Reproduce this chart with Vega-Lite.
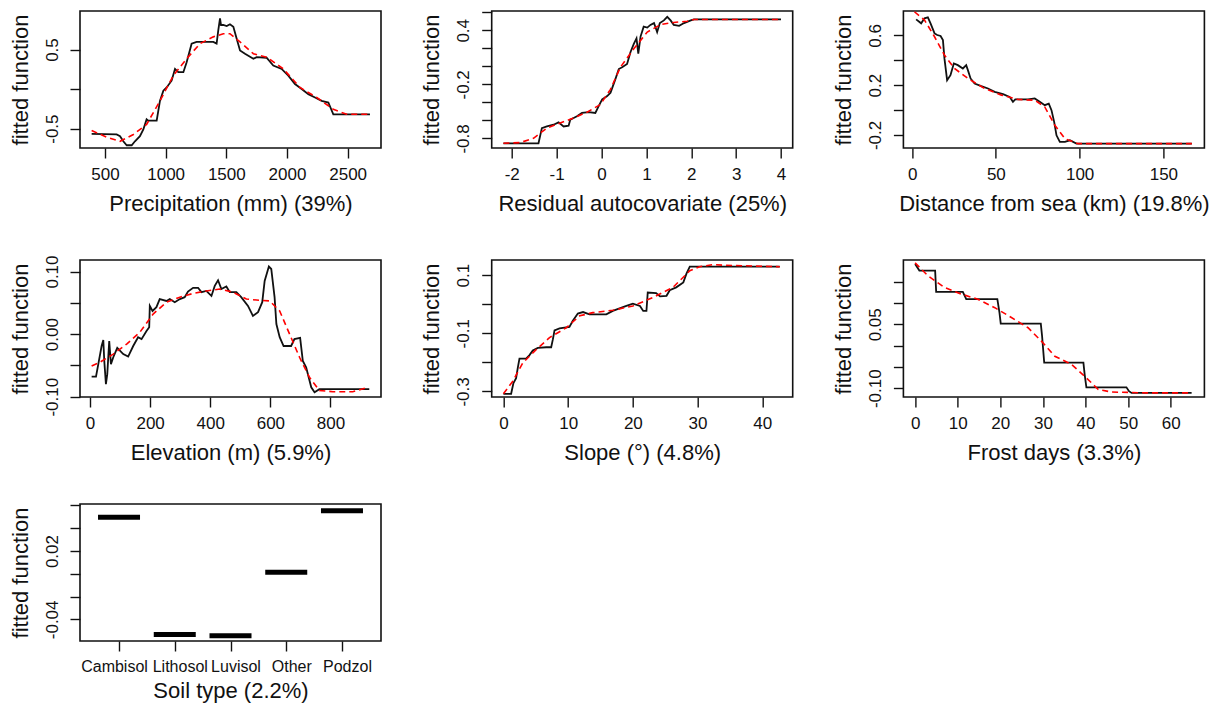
{
  "$schema": "https://vega.github.io/schema/vega-lite/v6.json",
  "background": "white",
  "padding": {"left": 8, "top": 7, "right": 4, "bottom": 1},
  "config": {
    "font": "Liberation Sans",
    "view": {"stroke": "#111", "strokeWidth": 1.6},
    "axis": {
      "domain": false, "grid": false,
      "tickColor": "#111", "tickWidth": 1.4, "tickSize": 10,
      "labelFont": "Liberation Sans", "labelFontSize": 17, "labelColor": "#111",
      "labelFlush": false, "labelOverlap": false, "labelBound": false,
      "titleFont": "Liberation Sans", "titleFontSize": 22, "titleFontWeight": "normal", "titleColor": "#111"
    },
    "axisX": {"labelPadding": 8, "titlePadding": 11, "labelAngle": 0},
    "axisY": {"labelAngle": -90, "labelAlign": "center", "labelBaseline": "alphabetic", "labelPadding": 13, "titlePadding": 11}
  },
  "datasets": {
    "precip_pd": [
      {"x": 390, "y": -0.566}, {"x": 596, "y": -0.574}, {"x": 624, "y": -0.596}, {"x": 651, "y": -0.66},
      {"x": 679, "y": -0.71}, {"x": 720, "y": -0.71}, {"x": 747, "y": -0.66}, {"x": 788, "y": -0.596},
      {"x": 816, "y": -0.51}, {"x": 843, "y": -0.383}, {"x": 857, "y": -0.4}, {"x": 926, "y": -0.4},
      {"x": 953, "y": -0.149}, {"x": 981, "y": -0.02}, {"x": 1008, "y": 0.02}, {"x": 1049, "y": 0.106},
      {"x": 1077, "y": 0.255}, {"x": 1104, "y": 0.213}, {"x": 1146, "y": 0.213}, {"x": 1173, "y": 0.34},
      {"x": 1214, "y": 0.574}, {"x": 1255, "y": 0.596}, {"x": 1393, "y": 0.596}, {"x": 1420, "y": 0.574},
      {"x": 1434, "y": 0.745}, {"x": 1448, "y": 0.894}, {"x": 1456, "y": 0.81}, {"x": 1475, "y": 0.81},
      {"x": 1503, "y": 0.796}, {"x": 1530, "y": 0.82}, {"x": 1558, "y": 0.787}, {"x": 1585, "y": 0.638},
      {"x": 1613, "y": 0.489}, {"x": 1654, "y": 0.447}, {"x": 1723, "y": 0.383}, {"x": 1750, "y": 0.404},
      {"x": 1832, "y": 0.396}, {"x": 1887, "y": 0.298}, {"x": 1956, "y": 0.255}, {"x": 2011, "y": 0.17},
      {"x": 2066, "y": 0.064}, {"x": 2121, "y": 0.0}, {"x": 2176, "y": -0.064}, {"x": 2231, "y": -0.106},
      {"x": 2286, "y": -0.149}, {"x": 2341, "y": -0.17}, {"x": 2382, "y": -0.319}, {"x": 2684, "y": -0.319}
    ],
    "precip_fit": [
      {"x": 390, "y": -0.523}, {"x": 514, "y": -0.609}, {"x": 624, "y": -0.66}, {"x": 734, "y": -0.574},
      {"x": 843, "y": -0.447}, {"x": 953, "y": -0.149}, {"x": 1063, "y": 0.17}, {"x": 1173, "y": 0.383},
      {"x": 1283, "y": 0.574}, {"x": 1393, "y": 0.66}, {"x": 1475, "y": 0.7}, {"x": 1530, "y": 0.7},
      {"x": 1613, "y": 0.596}, {"x": 1723, "y": 0.447}, {"x": 1832, "y": 0.404}, {"x": 1970, "y": 0.255},
      {"x": 2107, "y": 0.02}, {"x": 2245, "y": -0.106}, {"x": 2382, "y": -0.255}, {"x": 2492, "y": -0.319},
      {"x": 2684, "y": -0.319}
    ],
    "resid_pd": [
      {"x": -2.186, "y": -0.854}, {"x": -1.404, "y": -0.854}, {"x": -1.329, "y": -0.685}, {"x": -1.218, "y": -0.667},
      {"x": -1.069, "y": -0.648}, {"x": -0.957, "y": -0.622}, {"x": -0.845, "y": -0.667}, {"x": -0.733, "y": -0.659},
      {"x": -0.696, "y": -0.592}, {"x": -0.621, "y": -0.573}, {"x": -0.547, "y": -0.554}, {"x": -0.435, "y": -0.517},
      {"x": -0.286, "y": -0.509}, {"x": -0.137, "y": -0.517}, {"x": -0.063, "y": -0.442}, {"x": 0.015, "y": -0.367},
      {"x": 0.127, "y": -0.33}, {"x": 0.201, "y": -0.292}, {"x": 0.31, "y": -0.142}, {"x": 0.385, "y": -0.03},
      {"x": 0.46, "y": -0.011}, {"x": 0.57, "y": 0.026}, {"x": 0.645, "y": 0.157}, {"x": 0.72, "y": 0.25},
      {"x": 0.78, "y": 0.31}, {"x": 0.82, "y": 0.14}, {"x": 0.87, "y": 0.33}, {"x": 0.94, "y": 0.44},
      {"x": 1.02, "y": 0.43}, {"x": 1.09, "y": 0.46}, {"x": 1.17, "y": 0.48}, {"x": 1.24, "y": 0.38},
      {"x": 1.3, "y": 0.48}, {"x": 1.39, "y": 0.51}, {"x": 1.465, "y": 0.55}, {"x": 1.54, "y": 0.51},
      {"x": 1.61, "y": 0.46}, {"x": 1.73, "y": 0.45}, {"x": 1.84, "y": 0.48}, {"x": 1.99, "y": 0.51},
      {"x": 2.06, "y": 0.52}, {"x": 4.0, "y": 0.52}
    ],
    "resid_fit": [
      {"x": -2.186, "y": -0.854}, {"x": -1.81, "y": -0.846}, {"x": -1.516, "y": -0.798}, {"x": -1.218, "y": -0.685},
      {"x": -0.92, "y": -0.629}, {"x": -0.621, "y": -0.573}, {"x": -0.323, "y": -0.509}, {"x": -0.025, "y": -0.423},
      {"x": 0.2, "y": -0.255}, {"x": 0.42, "y": -0.011}, {"x": 0.72, "y": 0.195}, {"x": 1.02, "y": 0.38},
      {"x": 1.32, "y": 0.464}, {"x": 1.61, "y": 0.487}, {"x": 1.91, "y": 0.5}, {"x": 2.06, "y": 0.52},
      {"x": 4.0, "y": 0.52}
    ],
    "resid_rug": [
      {"x": -0.659}, {"x": -0.435}, {"x": -0.31}, {"x": -0.19}, {"x": -0.064}, {"x": 0.048}, {"x": 0.236}, {"x": 0.459}, {"x": 0.817}
    ],
    "sea_pd": [
      {"x": 2.4, "y": 0.729}, {"x": 5.4, "y": 0.697}, {"x": 7.4, "y": 0.737}, {"x": 9.4, "y": 0.745},
      {"x": 11.0, "y": 0.697}, {"x": 13.4, "y": 0.616}, {"x": 15.0, "y": 0.603}, {"x": 17.0, "y": 0.595},
      {"x": 18.4, "y": 0.562}, {"x": 19.3, "y": 0.415}, {"x": 20.9, "y": 0.24}, {"x": 22.9, "y": 0.28},
      {"x": 24.9, "y": 0.375}, {"x": 27.3, "y": 0.361}, {"x": 30.3, "y": 0.334}, {"x": 32.3, "y": 0.361},
      {"x": 33.3, "y": 0.321}, {"x": 34.9, "y": 0.254}, {"x": 37.3, "y": 0.213}, {"x": 41.3, "y": 0.192},
      {"x": 45.3, "y": 0.173}, {"x": 49.3, "y": 0.146}, {"x": 54.3, "y": 0.128}, {"x": 58.2, "y": 0.106},
      {"x": 60.2, "y": 0.066}, {"x": 61.6, "y": 0.085}, {"x": 69.2, "y": 0.085}, {"x": 73.2, "y": 0.093},
      {"x": 76.2, "y": 0.066}, {"x": 79.2, "y": 0.039}, {"x": 81.6, "y": 0.052}, {"x": 83.2, "y": -0.001},
      {"x": 84.8, "y": -0.095}, {"x": 86.2, "y": -0.203}, {"x": 88.2, "y": -0.256}, {"x": 91.2, "y": -0.256},
      {"x": 94.2, "y": -0.243}, {"x": 98.1, "y": -0.27}, {"x": 167, "y": -0.27}
    ],
    "sea_fit": [
      {"x": 1.4, "y": 0.79}, {"x": 7.4, "y": 0.723}, {"x": 13.4, "y": 0.589}, {"x": 19.3, "y": 0.442},
      {"x": 25.3, "y": 0.334}, {"x": 33.3, "y": 0.254}, {"x": 43.3, "y": 0.173}, {"x": 53.3, "y": 0.12},
      {"x": 63.2, "y": 0.085}, {"x": 73.2, "y": 0.079}, {"x": 79.2, "y": 0.025}, {"x": 85.2, "y": -0.122},
      {"x": 91.2, "y": -0.23}, {"x": 99.1, "y": -0.27}, {"x": 167, "y": -0.27}
    ],
    "sea_rug": [
      {"x": 2.0}, {"x": 12.4}, {"x": 20.3}, {"x": 26.3}, {"x": 32.3}, {"x": 39.3}, {"x": 48.9}, {"x": 57.3}, {"x": 75.2}
    ],
    "elev_pd": [
      {"x": 5.5, "y": -0.068}, {"x": 20, "y": -0.068}, {"x": 27.7, "y": -0.048}, {"x": 38.7, "y": -0.019},
      {"x": 44.3, "y": -0.0096}, {"x": 47.6, "y": -0.043}, {"x": 53, "y": -0.08}, {"x": 57.5, "y": -0.064},
      {"x": 64, "y": -0.011}, {"x": 69.7, "y": -0.048}, {"x": 77.5, "y": -0.037}, {"x": 90.7, "y": -0.022},
      {"x": 110.6, "y": -0.032}, {"x": 127, "y": -0.036}, {"x": 143.8, "y": -0.019}, {"x": 160, "y": -0.005},
      {"x": 171.5, "y": -0.008}, {"x": 188, "y": 0.005}, {"x": 197, "y": 0.011}, {"x": 199, "y": 0.045},
      {"x": 208, "y": 0.037}, {"x": 221, "y": 0.043}, {"x": 232, "y": 0.056}, {"x": 254.5, "y": 0.053},
      {"x": 265.5, "y": 0.056}, {"x": 282, "y": 0.051}, {"x": 299, "y": 0.056}, {"x": 315, "y": 0.059},
      {"x": 326, "y": 0.068}, {"x": 343, "y": 0.074}, {"x": 359.6, "y": 0.074}, {"x": 370.7, "y": 0.067},
      {"x": 387, "y": 0.069}, {"x": 404, "y": 0.061}, {"x": 415, "y": 0.077}, {"x": 426, "y": 0.086},
      {"x": 437, "y": 0.072}, {"x": 453.6, "y": 0.076}, {"x": 465, "y": 0.067}, {"x": 487, "y": 0.067},
      {"x": 503, "y": 0.059}, {"x": 525.6, "y": 0.045}, {"x": 542, "y": 0.029}, {"x": 559, "y": 0.035},
      {"x": 573, "y": 0.051}, {"x": 581, "y": 0.085}, {"x": 595, "y": 0.108}, {"x": 603, "y": 0.104},
      {"x": 614, "y": 0.059}, {"x": 620, "y": 0.016}, {"x": 631, "y": -0.005}, {"x": 644, "y": -0.019},
      {"x": 669, "y": -0.019}, {"x": 680, "y": -0.008}, {"x": 699, "y": -0.006}, {"x": 708, "y": -0.043},
      {"x": 719, "y": -0.053}, {"x": 736, "y": -0.085}, {"x": 747, "y": -0.093}, {"x": 763, "y": -0.088},
      {"x": 929, "y": -0.088}
    ],
    "elev_fit": [
      {"x": 5.5, "y": -0.051}, {"x": 33, "y": -0.045}, {"x": 77.5, "y": -0.032}, {"x": 122, "y": -0.016},
      {"x": 166, "y": 0.003}, {"x": 210, "y": 0.032}, {"x": 254.5, "y": 0.051}, {"x": 299, "y": 0.059},
      {"x": 343, "y": 0.065}, {"x": 387, "y": 0.069}, {"x": 431.6, "y": 0.072}, {"x": 476, "y": 0.067},
      {"x": 520, "y": 0.056}, {"x": 564, "y": 0.054}, {"x": 597.5, "y": 0.053}, {"x": 631, "y": 0.037},
      {"x": 664, "y": 0.0}, {"x": 697, "y": -0.037}, {"x": 730, "y": -0.069}, {"x": 763, "y": -0.09},
      {"x": 808, "y": -0.092}, {"x": 874, "y": -0.092}, {"x": 918, "y": -0.086}
    ],
    "elev_rug": [
      {"x": 5.5}, {"x": 53}, {"x": 97}, {"x": 136}, {"x": 175}, {"x": 219}, {"x": 332}, {"x": 518}
    ],
    "slope_pd": [
      {"x": 0, "y": -0.308}, {"x": 1.19, "y": -0.308}, {"x": 1.55, "y": -0.271}, {"x": 1.96, "y": -0.254},
      {"x": 2.22, "y": -0.219}, {"x": 2.48, "y": -0.187}, {"x": 3.51, "y": -0.187}, {"x": 4.03, "y": -0.175},
      {"x": 4.54, "y": -0.159}, {"x": 5.32, "y": -0.15}, {"x": 6.61, "y": -0.148}, {"x": 7.38, "y": -0.148},
      {"x": 7.64, "y": -0.121}, {"x": 7.9, "y": -0.09}, {"x": 8.67, "y": -0.083}, {"x": 10.2, "y": -0.078},
      {"x": 10.7, "y": -0.058}, {"x": 11.5, "y": -0.032}, {"x": 12.3, "y": -0.027}, {"x": 13.3, "y": -0.035},
      {"x": 15.9, "y": -0.035}, {"x": 16.9, "y": -0.023}, {"x": 19.0, "y": -0.006}, {"x": 20.0, "y": 0.002},
      {"x": 21.1, "y": -0.006}, {"x": 21.6, "y": -0.023}, {"x": 22.1, "y": -0.023}, {"x": 22.3, "y": 0.04},
      {"x": 23.6, "y": 0.038}, {"x": 24.2, "y": 0.027}, {"x": 25.2, "y": 0.029}, {"x": 25.7, "y": 0.048},
      {"x": 26.7, "y": 0.058}, {"x": 27.8, "y": 0.075}, {"x": 28.3, "y": 0.106}, {"x": 28.8, "y": 0.129},
      {"x": 42.7, "y": 0.129}
    ],
    "slope_fit": [
      {"x": 0, "y": -0.308}, {"x": 1.45, "y": -0.265}, {"x": 2.99, "y": -0.202}, {"x": 5.06, "y": -0.156},
      {"x": 7.12, "y": -0.115}, {"x": 9.7, "y": -0.081}, {"x": 11.8, "y": -0.04}, {"x": 13.8, "y": -0.029},
      {"x": 16.9, "y": -0.021}, {"x": 20.0, "y": -0.006}, {"x": 23.1, "y": 0.023}, {"x": 26.2, "y": 0.058},
      {"x": 28.8, "y": 0.115}, {"x": 30.3, "y": 0.129}, {"x": 32.4, "y": 0.136}, {"x": 34.0, "y": 0.134},
      {"x": 42.7, "y": 0.129}
    ],
    "slope_rug": [
      {"x": 0}, {"x": 3.0}, {"x": 3.9}, {"x": 4.95}, {"x": 7.0}, {"x": 8.05}, {"x": 10.1}, {"x": 12.0}, {"x": 14.8}, {"x": 18.9}
    ],
    "frost_pd": [
      {"x": 0, "y": 0.1915}, {"x": 1.0, "y": 0.176}, {"x": 4.7, "y": 0.176}, {"x": 4.94, "y": 0.126},
      {"x": 11.2, "y": 0.126}, {"x": 12.0, "y": 0.109}, {"x": 19.3, "y": 0.109}, {"x": 19.8, "y": 0.0775},
      {"x": 20.1, "y": 0.0516}, {"x": 29.5, "y": 0.0516}, {"x": 29.8, "y": 0.0225}, {"x": 30.3, "y": -0.04},
      {"x": 39.5, "y": -0.04}, {"x": 39.8, "y": -0.068}, {"x": 40.2, "y": -0.098}, {"x": 49.6, "y": -0.098},
      {"x": 50.2, "y": -0.107}, {"x": 50.8, "y": -0.111}, {"x": 64.9, "y": -0.111}
    ],
    "frost_fit": [
      {"x": 0, "y": 0.194}, {"x": 3.0, "y": 0.164}, {"x": 6.9, "y": 0.1365}, {"x": 10.8, "y": 0.121},
      {"x": 14.7, "y": 0.109}, {"x": 18.7, "y": 0.089}, {"x": 22.6, "y": 0.066}, {"x": 26.5, "y": 0.042},
      {"x": 29.6, "y": 0.011}, {"x": 32.8, "y": -0.025}, {"x": 36.7, "y": -0.044}, {"x": 39.8, "y": -0.072},
      {"x": 43.0, "y": -0.103}, {"x": 46.1, "y": -0.109}, {"x": 50.8, "y": -0.11}, {"x": 54.0, "y": -0.111},
      {"x": 64.9, "y": -0.111}
    ],
    "frost_rug": [
      {"x": 0}, {"x": 2.4}, {"x": 7.3}, {"x": 9.9}, {"x": 15}, {"x": 19.8}, {"x": 24.9}, {"x": 29.9}, {"x": 34.9}, {"x": 39.8}
    ],
    "soil": [
      {"soil": "Cambisol", "y": 0.0496},
      {"soil": "Lithosol", "y": -0.0532},
      {"soil": "Luvisol", "y": -0.0544},
      {"soil": "Other", "y": 0.0013},
      {"soil": "Podzol", "y": 0.0554}
    ]
  },
  "spacing": 39,
  "vconcat": [
    {
      "bounds": "flush",
      "spacing": 110.7,
      "hconcat": [
        {
          "width": 301, "height": 137,
          "encoding": {
            "x": {"field": "x", "type": "quantitative", "scale": {"domain": [294, 2775], "nice": false, "zero": false},
                  "axis": {"values": [500, 1000, 1500, 2000, 2500], "format": "d", "title": "Precipitation (mm) (39%)"}},
            "y": {"field": "y", "type": "quantitative", "scale": {"domain": [-0.745, 0.987], "nice": false, "zero": false},
                  "axis": {"values": [-0.5, 0, 0.5], "title": "fitted function",
                           "labelExpr": "indexof([-0.5, 0.5], datum.value) >= 0 ? (datum.value < 0 ? '-' : '') + format(abs(datum.value), '.1f') : ''"}}
          },
          "layer": [
            {"data": {"name": "precip_pd"}, "mark": {"type": "line", "color": "#111", "strokeWidth": 1.8}},
            {"data": {"name": "precip_fit"}, "mark": {"type": "line", "color": "#ff0000", "strokeWidth": 1.6, "strokeDash": [6, 4]}}
          ]
        },
        {
          "width": 301, "height": 137,
          "encoding": {
            "x": {"field": "x", "type": "quantitative", "scale": {"domain": [-2.447, 4.261], "nice": false, "zero": false},
                  "axis": {"values": [-2, -1, 0, 1, 2, 3, 4], "title": "Residual autocovariate (25%)",
                           "labelExpr": "(datum.value < 0 ? '-' : '') + format(abs(datum.value), 'd')"}},
            "y": {"field": "y", "type": "quantitative", "scale": {"domain": [-0.906, 0.614], "nice": false, "zero": false},
                  "axis": {"values": [-0.8, -0.6, -0.4, -0.2, 0, 0.2, 0.4, 0.6], "title": "fitted function",
                           "labelExpr": "indexof([-0.8, -0.2, 0.4], datum.value) >= 0 ? (datum.value < 0 ? '-' : '') + format(abs(datum.value), '.1f') : ''"}}
          },
          "layer": [
            {"data": {"name": "resid_pd"}, "mark": {"type": "line", "color": "#111", "strokeWidth": 1.8}},
            {"data": {"name": "resid_fit"}, "mark": {"type": "line", "color": "#ff0000", "strokeWidth": 1.6, "strokeDash": [6, 4]}},
            {"data": {"name": "resid_rug"}, "mark": {"type": "rule", "color": "#111", "strokeWidth": 1.5},
             "encoding": {"y": {"datum": -0.906}, "y2": {"datum": -0.845}}}
          ]
        },
        {
          "width": 301, "height": 137,
          "encoding": {
            "x": {"field": "x", "type": "quantitative", "scale": {"domain": [-5.2, 174.5], "nice": false, "zero": false},
                  "axis": {"values": [0, 50, 100, 150], "format": "d", "title": "Distance from sea (km) (19.8%)"}},
            "y": {"field": "y", "type": "quantitative", "scale": {"domain": [-0.305, 0.796], "nice": false, "zero": false},
                  "axis": {"values": [-0.2, 0, 0.2, 0.4, 0.6], "title": "fitted function",
                           "labelExpr": "indexof([-0.2, 0.2, 0.6], datum.value) >= 0 ? (datum.value < 0 ? '-' : '') + format(abs(datum.value), '.1f') : ''"}}
          },
          "layer": [
            {"data": {"name": "sea_pd"}, "mark": {"type": "line", "color": "#111", "strokeWidth": 1.8}},
            {"data": {"name": "sea_fit"}, "mark": {"type": "line", "color": "#ff0000", "strokeWidth": 1.6, "strokeDash": [6, 4]}},
            {"data": {"name": "sea_rug"}, "mark": {"type": "rule", "color": "#111", "strokeWidth": 1.5},
             "encoding": {"y": {"datum": -0.305}, "y2": {"datum": -0.261}}}
          ]
        }
      ]
    },
    {
      "bounds": "flush",
      "spacing": 110.7,
      "hconcat": [
        {
          "width": 301, "height": 137,
          "encoding": {
            "x": {"field": "x", "type": "quantitative", "scale": {"domain": [-33.2, 968], "nice": false, "zero": false},
                  "axis": {"values": [0, 200, 400, 600, 800], "format": "d", "title": "Elevation (m) (5.9%)"}},
            "y": {"field": "y", "type": "quantitative", "scale": {"domain": [-0.1005, 0.1184], "nice": false, "zero": false},
                  "axis": {"values": [-0.1, -0.05, 0, 0.05, 0.1], "title": "fitted function",
                           "labelExpr": "indexof([-0.1, 0, 0.1], datum.value) >= 0 ? (datum.value < 0 ? '-' : '') + format(abs(datum.value), '.2f') : ''"}}
          },
          "layer": [
            {"data": {"name": "elev_pd"}, "mark": {"type": "line", "color": "#111", "strokeWidth": 1.8}},
            {"data": {"name": "elev_fit"}, "mark": {"type": "line", "color": "#ff0000", "strokeWidth": 1.6, "strokeDash": [6, 4]}},
            {"data": {"name": "elev_rug"}, "mark": {"type": "rule", "color": "#111", "strokeWidth": 1.5},
             "encoding": {"y": {"datum": -0.1005}, "y2": {"datum": -0.0917}}}
          ]
        },
        {
          "width": 301, "height": 137,
          "encoding": {
            "x": {"field": "x", "type": "quantitative", "scale": {"domain": [-1.81, 44.7], "nice": false, "zero": false},
                  "axis": {"values": [0, 10, 20, 30, 40], "format": "d", "title": "Slope (°) (4.8%)"}},
            "y": {"field": "y", "type": "quantitative", "scale": {"domain": [-0.319, 0.152], "nice": false, "zero": false},
                  "axis": {"values": [-0.3, -0.2, -0.1, 0, 0.1], "title": "fitted function",
                           "labelExpr": "indexof([-0.3, -0.1, 0.1], datum.value) >= 0 ? (datum.value < 0 ? '-' : '') + format(abs(datum.value), '.1f') : ''"}}
          },
          "layer": [
            {"data": {"name": "slope_pd"}, "mark": {"type": "line", "color": "#111", "strokeWidth": 1.8}},
            {"data": {"name": "slope_fit"}, "mark": {"type": "line", "color": "#ff0000", "strokeWidth": 1.6, "strokeDash": [6, 4]}},
            {"data": {"name": "slope_rug"}, "mark": {"type": "rule", "color": "#111", "strokeWidth": 1.5},
             "encoding": {"y": {"datum": -0.319}, "y2": {"datum": -0.3}}}
          ]
        },
        {
          "width": 301, "height": 137,
          "encoding": {
            "x": {"field": "x", "type": "quantitative", "scale": {"domain": [-2.75, 67.9], "nice": false, "zero": false},
                  "axis": {"values": [0, 10, 20, 30, 40, 50, 60], "format": "d", "title": "Frost days (3.3%)"}},
            "y": {"field": "y", "type": "quantitative", "scale": {"domain": [-0.1206, 0.2009], "nice": false, "zero": false},
                  "axis": {"values": [-0.1, -0.05, 0, 0.05, 0.1, 0.15], "title": "fitted function",
                           "labelExpr": "indexof([-0.1, 0.05], datum.value) >= 0 ? (datum.value < 0 ? '-' : '') + format(abs(datum.value), '.2f') : ''"}}
          },
          "layer": [
            {"data": {"name": "frost_pd"}, "mark": {"type": "line", "color": "#111", "strokeWidth": 1.8}},
            {"data": {"name": "frost_fit"}, "mark": {"type": "line", "color": "#ff0000", "strokeWidth": 1.6, "strokeDash": [6, 4]}},
            {"data": {"name": "frost_rug"}, "mark": {"type": "rule", "color": "#111", "strokeWidth": 1.5},
             "encoding": {"y": {"datum": -0.1206}, "y2": {"datum": -0.108}}}
          ]
        }
      ]
    },
    {
      "width": 301, "height": 137,
      "data": {"name": "soil"},
      "mark": {"type": "tick", "orient": "horizontal", "color": "#000", "opacity": 1, "thickness": 5, "size": 42},
      "encoding": {
        "x": {"field": "soil", "type": "nominal", "sort": null, "scale": {"type": "point", "padding": 0.7},
              "axis": {"title": "Soil type (2.2%)", "labelFontSize": 16, "labelAngle": 0, "labelPadding": 7, "titlePadding": 6,
                       "labelOffset": {"condition": {"test": "datum.value == 'Cambisol'", "value": -5}, "value": 5}}},
        "y": {"field": "y", "type": "quantitative", "scale": {"domain": [-0.059, 0.0613], "nice": false, "zero": false},
              "axis": {"values": [-0.04, -0.02, 0, 0.02, 0.04, 0.06], "title": "fitted function",
                       "labelExpr": "indexof([-0.04, 0.02], datum.value) >= 0 ? (datum.value < 0 ? '-' : '') + format(abs(datum.value), '.2f') : ''"}}
      }
    }
  ]
}
